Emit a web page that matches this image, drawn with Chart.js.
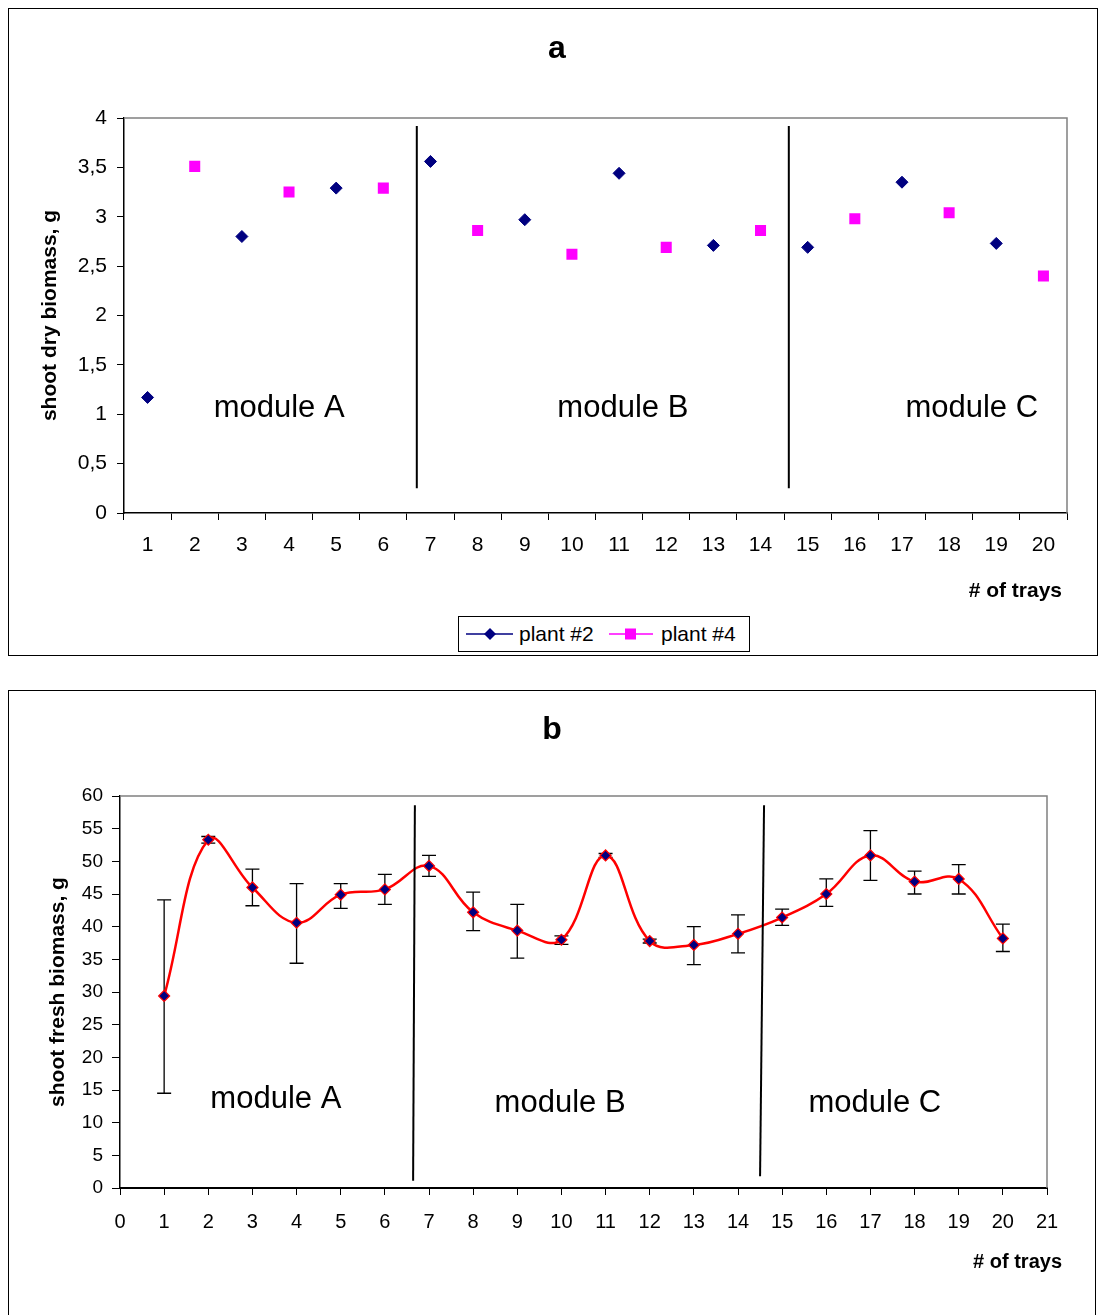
<!DOCTYPE html>
<html>
<head>
<meta charset="utf-8">
<script src="https://cdn.jsdelivr.net/npm/chart.js@4.4.1/dist/chart.umd.min.js"></script>
<style>
    body {
        margin: 0;
        background: #fff;
        width: 1098px;
        height: 1315px;
        overflow: hidden;
        position: relative;
        font-family: "Liberation Sans", Arial, sans-serif;
    }
    .frame { position: absolute; border: 1px solid #000; box-sizing: border-box; }
    #frameA { left: 8px; top: 8px; width: 1090px; height: 648px; }
    #frameB { left: 8px; top: 690px; width: 1088px; height: 640px; }
    .wrap { position: absolute; left: 0; width: 1098px; }
    #wrapA { top: 0; height: 660px; }
    #wrapB { top: 680px; height: 635px; }
    .ttl {
        position: absolute; width: 100px; text-align: center;
        font-size: 32px; font-weight: bold; line-height: 38px; color: #000;
    }
    #legend {
        position: absolute; left: 458px; top: 616px; width: 292px; height: 36px;
        border: 1px solid #000; box-sizing: border-box; background: #fff;
        font-size: 21px; color: #000; white-space: nowrap;
    }
    #legend .item { position: absolute; top: 0; height: 34px; line-height: 34px; }
    #legend svg { position: absolute; top: 7px; left: 0; }
    #legend span { position: absolute; left: 53px; top: 0; }
</style>
</head>
<body>
<div class="frame" id="frameA"></div>
<div class="frame" id="frameB"></div>
<div class="wrap" id="wrapA"><canvas id="chartA"></canvas></div>
<div class="wrap" id="wrapB"><canvas id="chartB"></canvas></div>
<div class="ttl" style="left:507px; top:28px">a</div>
<div class="ttl" style="left:502px; top:709px">b</div>
<div id="legend">
    <div class="item" style="left:7px">
        <svg width="48" height="20"><line x1="0" y1="10" x2="47" y2="10" stroke="#000080" stroke-width="1.5"/><polygon points="24,4 30,10 24,16 18,10" fill="#000080"/></svg>
        <span>plant #2</span>
    </div>
    <div class="item" style="left:150px">
        <svg width="48" height="20"><line x1="0" y1="10" x2="44" y2="10" stroke="#FF00FF" stroke-width="1.5"/><rect x="16" y="4.5" width="11" height="11" fill="#FF00FF"/></svg>
        <span style="left:52px">plant #4</span>
    </div>
</div>

<script>
const FONT = '"Liberation Sans", Arial, sans-serif';

// ---- chart a: shoot dry biomass ----
const traysA = ['1','2','3','4','5','6','7','8','9','10','11','12','13','14','15','16','17','18','19','20'];
const plant2 = [1.17, null, 2.80, null, 3.29, null, 3.56, null, 2.97, null, 3.44, null, 2.71, null, 2.69, null, 3.35, null, 2.73, null];
const plant4 = [null, 3.51, null, 3.25, null, 3.29, null, 2.86, null, 2.62, null, 2.69, null, 2.86, null, 2.98, null, 3.04, null, 2.40];
const yTicksA = ['0', '0,5', '1', '1,5', '2', '2,5', '3', '3,5', '4'];

// module dividers (category index / value units) and labels
const dividersA = [[5.71, 3.92, 5.71, 0.25], [13.6, 3.92, 13.6, 0.25]];
const moduleLabelsA = [['module A', 2.79, 1.06], ['module B', 10.08, 1.06], ['module C', 17.48, 1.06]];

// ---- chart b: shoot fresh biomass ----
const traysB = [1, 2, 3, 4, 5, 6, 7, 8, 9, 10, 11, 12, 13, 14, 15, 16, 17, 18, 19, 20];
const freshMean = [29.4, 53.3, 46.0, 40.6, 44.9, 45.7, 49.3, 42.2, 39.4, 38.0, 50.9, 37.8, 37.2, 38.9, 41.4, 45.0, 50.9, 46.9, 47.3, 38.2];
const freshHigh = [44.1, 53.8, 48.8, 46.6, 46.6, 48.0, 50.9, 45.3, 43.4, 38.6, 51.2, 38.1, 40.0, 41.8, 42.7, 47.3, 54.7, 48.5, 49.5, 40.4];
const freshLow  = [14.5, 52.8, 43.2, 34.4, 42.8, 43.4, 47.7, 39.4, 35.2, 37.3, 50.6, 37.5, 34.2, 36.0, 40.2, 43.1, 47.1, 45.0, 45.0, 36.2];

const dividersB = [[6.68, 58.6, 6.64, 1.1], [14.59, 58.6, 14.5, 1.8]];
const moduleLabelsB = [['module A', 3.53, 13.5], ['module B', 9.97, 12.9], ['module C', 17.1, 12.9]];


// серая рамка сверху и справа у области графика
const frameLines = {
    id: 'frameLines',
    beforeDatasetsDraw(chart) {
        const { ctx, chartArea: a } = chart;
        ctx.save();
        ctx.strokeStyle = '#808080';
        ctx.lineWidth = 1.5;
        ctx.beginPath();
        ctx.moveTo(a.left, a.top);
        ctx.lineTo(a.right, a.top);
        ctx.lineTo(a.right, a.bottom);
        ctx.stroke();
        ctx.restore();
    }
};

// вертикальные разделители модулей, подписи и "# of trays"
const modules = {
    id: 'modules',
    afterDatasetsDraw(chart, args, opts) {
        const { ctx, chartArea: a, scales: { x, y } } = chart;
        ctx.save();
        ctx.strokeStyle = '#000';
        ctx.lineWidth = 2;
        opts.lines.forEach(l => {
            ctx.beginPath();
            ctx.moveTo(x.getPixelForValue(l[0]), y.getPixelForValue(l[1]));
            ctx.lineTo(x.getPixelForValue(l[2]), y.getPixelForValue(l[3]));
            ctx.stroke();
        });
        ctx.fillStyle = '#000';
        ctx.font = '31px ' + FONT;
        ctx.textAlign = 'center';
        ctx.textBaseline = 'middle';
        opts.labels.forEach(t => {
            ctx.fillText(t[0], x.getPixelForValue(t[1]), y.getPixelForValue(t[2]));
        });
        // подпись оси X справа
        ctx.font = 'bold ' + opts.noteSize + 'px ' + FONT;
        ctx.textAlign = 'right';
        ctx.fillText('# of trays', a.right + opts.noteDx, a.bottom + opts.noteDy);
        ctx.restore();
    }
};

// планки погрешностей
const errorBars = {
    id: 'errorBars',
    beforeDatasetsDraw(chart) {
        const { ctx, scales: { x, y } } = chart;
        ctx.save();
        ctx.strokeStyle = '#000';
        ctx.lineWidth = 1.3;
        traysB.forEach((t, i) => {
            const px = x.getPixelForValue(t);
            const top = y.getPixelForValue(freshHigh[i]);
            const bot = y.getPixelForValue(freshLow[i]);
            ctx.beginPath();
            ctx.moveTo(px, top); ctx.lineTo(px, bot);
            ctx.moveTo(px - 7, top); ctx.lineTo(px + 7, top);
            ctx.moveTo(px - 7, bot); ctx.lineTo(px + 7, bot);
            ctx.stroke();
        });
        ctx.restore();
    }
};

new Chart(document.getElementById('chartA'), {
    type: 'line',
    data: {
        labels: traysA,
        datasets: [
            {
                label: 'plant #2',
                data: plant2,
                showLine: false,
                pointStyle: 'rectRot',
                pointRadius: 6,
                pointBorderWidth: 1,
                pointBackgroundColor: '#000080',
                pointBorderColor: '#000080',
                borderColor: '#000080'
            },
            {
                label: 'plant #4',
                data: plant4,
                showLine: false,
                pointStyle: 'rect',
                pointRadius: 7.8,
                pointBorderWidth: 0,
                pointBackgroundColor: '#FF00FF',
                pointBorderColor: '#FF00FF',
                borderColor: '#FF00FF'
            }
        ]
    },
    options: {
        responsive: true,
        maintainAspectRatio: false,
        animation: false,
        layout: { padding: { left: 0, right: 31, top: 118, bottom: 47 } },
        plugins: {
            legend: { display: false },
            tooltip: { enabled: false },
            modules: { lines: dividersA, labels: moduleLabelsA, noteSize: 21, noteDx: -5, noteDy: 78 }
        },
        scales: {
            x: {
                offset: true,
                grid: { offset: true, drawOnChartArea: false, tickLength: 7, color: '#000' },
                border: { color: '#000', width: 1.5 },
                ticks: { color: '#000', font: { size: 21, family: FONT }, padding: 13, maxRotation: 0, autoSkip: false },
                afterFit(s) { s.height = 100; }
            },
            y: {
                min: 0, max: 4,
                grid: { drawOnChartArea: false, tickLength: 7, color: '#000' },
                border: { color: '#000', width: 1.5 },
                ticks: {
                    stepSize: 0.5, color: '#000', padding: 10,
                    font: { size: 21, family: FONT },
                    callback: (v, i) => yTicksA[i]
                },
                title: {
                    display: true, text: 'shoot dry biomass, g', color: '#000',
                    font: { size: 21, weight: 'bold', family: FONT },
                    padding: { top: 37.4, bottom: 0 }
                },
                afterFit(s) { s.width = 124; }
            }
        }
    },
    plugins: [frameLines, modules]
});

new Chart(document.getElementById('chartB'), {
    type: 'line',
    data: {
        datasets: [{
            label: 'fresh biomass',
            data: traysB.map((t, i) => ({ x: t, y: freshMean[i] })),
            borderColor: '#FF0000',
            borderWidth: 2.5,
            tension: 0.4,
            pointStyle: 'rectRot',
            pointRadius: 5.5,
            pointBorderWidth: 1.2,
            pointBackgroundColor: '#000080',
            pointBorderColor: '#FF0000'
        }]
    },
    options: {
        responsive: true,
        maintainAspectRatio: false,
        animation: false,
        layout: { padding: { left: 0, right: 51, top: 116, bottom: 27 } },
        plugins: {
            legend: { display: false },
            tooltip: { enabled: false },
            modules: { lines: dividersB, labels: moduleLabelsB, noteSize: 20, noteDx: 15, noteDy: 74 }
        },
        scales: {
            x: {
                type: 'linear', min: 0, max: 21,
                grid: { drawOnChartArea: false, tickLength: 7, color: '#000' },
                border: { color: '#000', width: 2 },
                ticks: { stepSize: 1, color: '#000', font: { size: 20, family: FONT }, padding: 15, maxRotation: 0, autoSkip: false },
                afterFit(s) { s.height = 100; }
            },
            y: {
                min: 0, max: 60,
                grid: { drawOnChartArea: false, tickLength: 8, color: '#000' },
                border: { color: '#000', width: 1.5 },
                ticks: { stepSize: 5, color: '#000', padding: 9, font: { size: 19, family: FONT } },
                title: {
                    display: true, text: 'shoot fresh biomass, g', color: '#000',
                    font: { size: 21, weight: 'bold', family: FONT },
                    padding: { top: 45.4, bottom: 0 }
                },
                afterFit(s) { s.width = 120; }
            }
        }
    },
    plugins: [frameLines, errorBars, modules]
});
</script>
</body>
</html>
